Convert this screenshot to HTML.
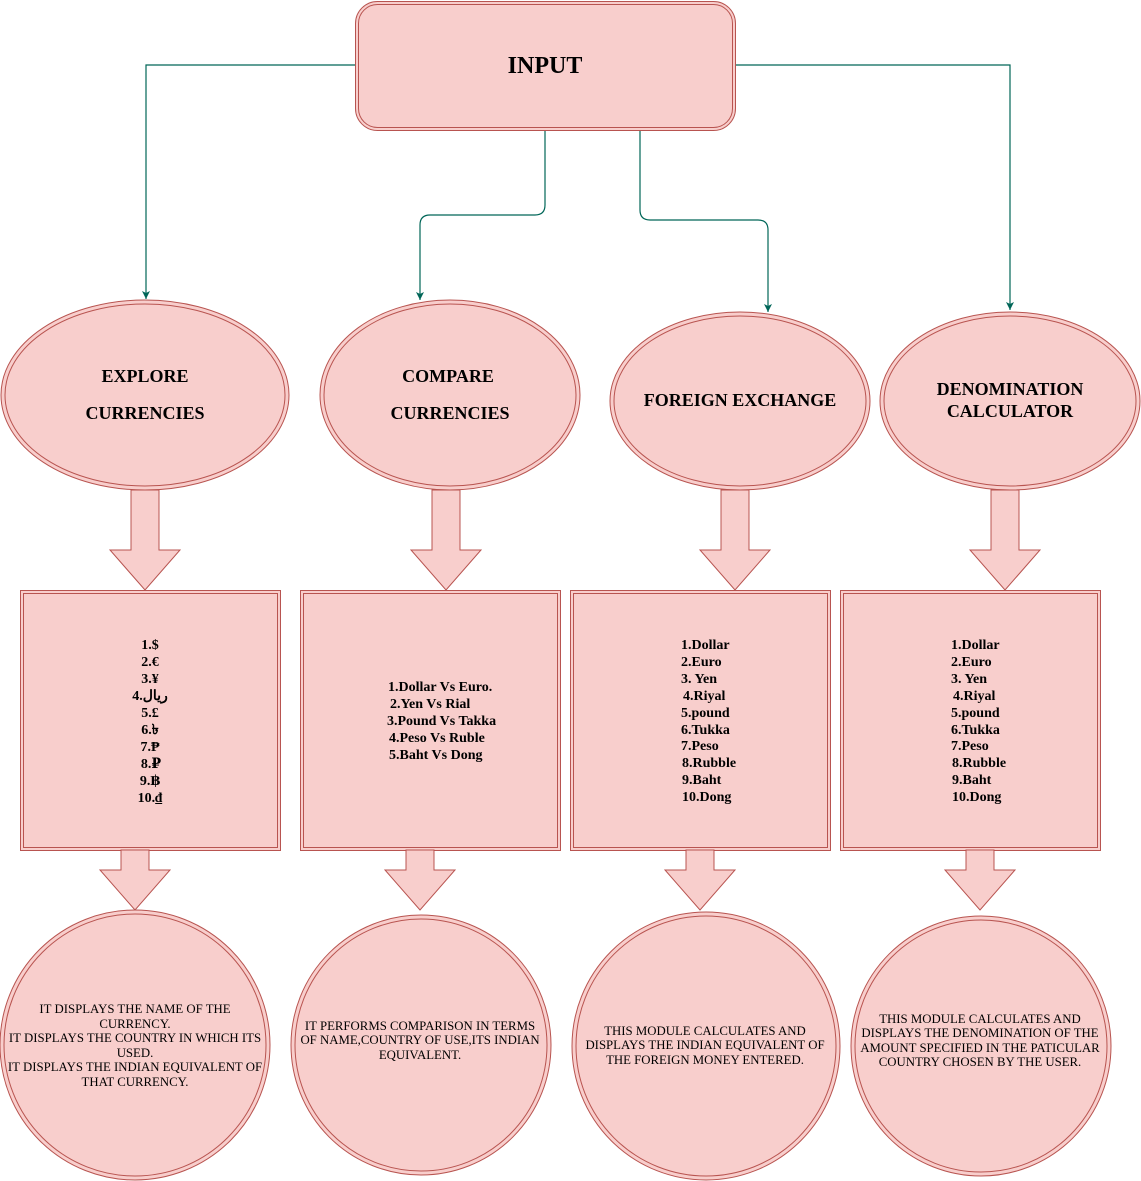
<!DOCTYPE html>
<html><head><meta charset="utf-8"><style>
body{margin:0;background:#fff}
svg{display:block}
text{font-family:"Liberation Serif","DejaVu Serif",serif;fill:#000}
.h{font-size:18px;font-weight:bold}
.l{font-size:14px;font-weight:bold}
.c{font-size:12.8px}
</style></head><body>
<svg width="1141" height="1181" viewBox="0 0 1141 1181" xmlns="http://www.w3.org/2000/svg">
<defs>
<marker id="a" markerWidth="10" markerHeight="10" refX="4" refY="8" orient="0" markerUnits="userSpaceOnUse">
<path d="M0,0 L4,2 L8,0 L4,8 Z" fill="#006658"/>
</marker>
</defs>
<g fill="none" stroke="#006658" stroke-width="1.2">
<path d="M355,65 H146 V299" marker-end="url(#a)"/>
<path d="M545,130 V205 Q545,215 535,215 H430 Q420,215 420,225 V300" marker-end="url(#a)"/>
<path d="M640,130 V210 Q640,220 650,220 H758 Q768,220 768,230 V312" marker-end="url(#a)"/>
<path d="M735,65 H1010 V310" marker-end="url(#a)"/>
</g>
<g fill="#f8cecc" stroke="#b85450" stroke-width="1">
<rect x="355.5" y="1.5" width="380" height="129" rx="22"/>
<rect x="358.5" y="4.5" width="374" height="123" rx="19"/>
<ellipse cx="145" cy="395" rx="144" ry="95"/><ellipse cx="145" cy="395" rx="140" ry="91"/>
<ellipse cx="450" cy="395" rx="130" ry="95"/><ellipse cx="450" cy="395" rx="126" ry="91"/>
<ellipse cx="740" cy="401" rx="130" ry="89"/><ellipse cx="740" cy="401" rx="126" ry="85"/>
<ellipse cx="1010" cy="401" rx="130" ry="89"/><ellipse cx="1010" cy="401" rx="126" ry="85"/>
<path d="M131,490 V550 H110 L145,590 L180,550 H159 V490 Z"/>
<path d="M432,490 V550 H411 L446,590 L481,550 H460 V490 Z"/>
<path d="M721,490 V550 H700 L735,590 L770,550 H749 V490 Z"/>
<path d="M991,490 V550 H970 L1005,590 L1040,550 H1019 V490 Z"/>
<rect x="20.5" y="590.5" width="260" height="260"/><rect x="23.5" y="593.5" width="254" height="254"/>
<rect x="300.5" y="590.5" width="260" height="260"/><rect x="303.5" y="593.5" width="254" height="254"/>
<rect x="570.5" y="590.5" width="260" height="260"/><rect x="573.5" y="593.5" width="254" height="254"/>
<rect x="840.5" y="590.5" width="260" height="260"/><rect x="843.5" y="593.5" width="254" height="254"/>
<path d="M121,850 V870 H100 L135,910 L170,870 H149 V850 Z"/>
<path d="M406,850 V870 H385 L420,910 L455,870 H434 V850 Z"/>
<path d="M686,850 V870 H665 L700,910 L735,870 H714 V850 Z"/>
<path d="M966,850 V870 H945 L980,910 L1015,870 H994 V850 Z"/>
<circle cx="135" cy="1045" r="135"/><circle cx="135" cy="1045" r="131"/>
<circle cx="421" cy="1045" r="130"/><circle cx="421" cy="1045" r="126"/>
<circle cx="706" cy="1046" r="134"/><circle cx="706" cy="1046" r="130"/>
<circle cx="981" cy="1046" r="130"/><circle cx="981" cy="1046" r="126"/>
</g>
<text x="545" y="73" text-anchor="middle" style="font-size:24px;font-weight:bold">INPUT</text>
<g class="h" text-anchor="middle">
<text x="145" y="382">EXPLORE</text><text x="145" y="419">CURRENCIES</text>
<text x="448" y="382">COMPARE</text><text x="450" y="419">CURRENCIES</text>
<text x="740" y="406">FOREIGN EXCHANGE</text>
<text x="1010" y="395">DENOMINATION</text><text x="1010" y="417">CALCULATOR</text>
</g>
<g class="l" text-anchor="middle">
<text x="150" y="649">1.$</text><text x="150" y="666">2.€</text><text x="150" y="683">3.¥</text>
<text x="150" y="700">4.ریال</text><text x="150" y="717">5.£</text><text x="150" y="734">6.৳</text>
<text x="150" y="751">7.₱</text><text x="151" y="768">8.₽</text><text x="150" y="785">9.฿</text><text x="150" y="802">10.₫</text>
</g>
<g class="l">
<text x="388" y="691">1.Dollar Vs Euro.</text><text x="390" y="708">2.Yen Vs Rial</text>
<text x="387" y="725">3.Pound Vs Takka</text><text x="389" y="742">4.Peso Vs Ruble</text>
<text x="389" y="759">5.Baht Vs Dong</text>
</g>
<g class="l">
<text x="681" y="649">1.Dollar</text><text x="681" y="666">2.Euro</text><text x="681" y="683">3. Yen</text>
<text x="683" y="700">4.Riyal</text><text x="681" y="717">5.pound</text><text x="681" y="734">6.Tukka</text>
<text x="681" y="750">7.Peso</text><text x="682" y="767">8.Rubble</text><text x="682" y="784">9.Baht</text><text x="682" y="801">10.Dong</text>
<text x="951" y="649">1.Dollar</text><text x="951" y="666">2.Euro</text><text x="951" y="683">3. Yen</text>
<text x="953" y="700">4.Riyal</text><text x="951" y="717">5.pound</text><text x="951" y="734">6.Tukka</text>
<text x="951" y="750">7.Peso</text><text x="952" y="767">8.Rubble</text><text x="952" y="784">9.Baht</text><text x="952" y="801">10.Dong</text>
</g>
<g class="c" text-anchor="middle">
<text x="135" y="1013">IT DISPLAYS THE NAME OF THE</text>
<text x="135" y="1028">CURRENCY.</text>
<text x="135" y="1042">IT DISPLAYS THE COUNTRY IN WHICH ITS</text>
<text x="135" y="1057">USED.</text>
<text x="135" y="1071">IT DISPLAYS THE INDIAN EQUIVALENT OF</text>
<text x="135" y="1086">THAT CURRENCY.</text>
<text x="420" y="1030">IT PERFORMS COMPARISON IN TERMS</text>
<text x="420" y="1044">OF NAME,COUNTRY OF USE,ITS INDIAN</text>
<text x="420" y="1059">EQUIVALENT.</text>
<text x="705" y="1035">THIS MODULE CALCULATES AND</text>
<text x="705" y="1049">DISPLAYS THE INDIAN EQUIVALENT OF</text>
<text x="705" y="1064">THE FOREIGN MONEY ENTERED.</text>
<text x="980" y="1023">THIS MODULE CALCULATES AND</text>
<text x="980" y="1037">DISPLAYS THE DENOMINATION OF THE</text>
<text x="980" y="1052">AMOUNT SPECIFIED IN THE PATICULAR</text>
<text x="980" y="1066">COUNTRY CHOSEN BY THE USER.</text>
</g>
</svg>
</body></html>
